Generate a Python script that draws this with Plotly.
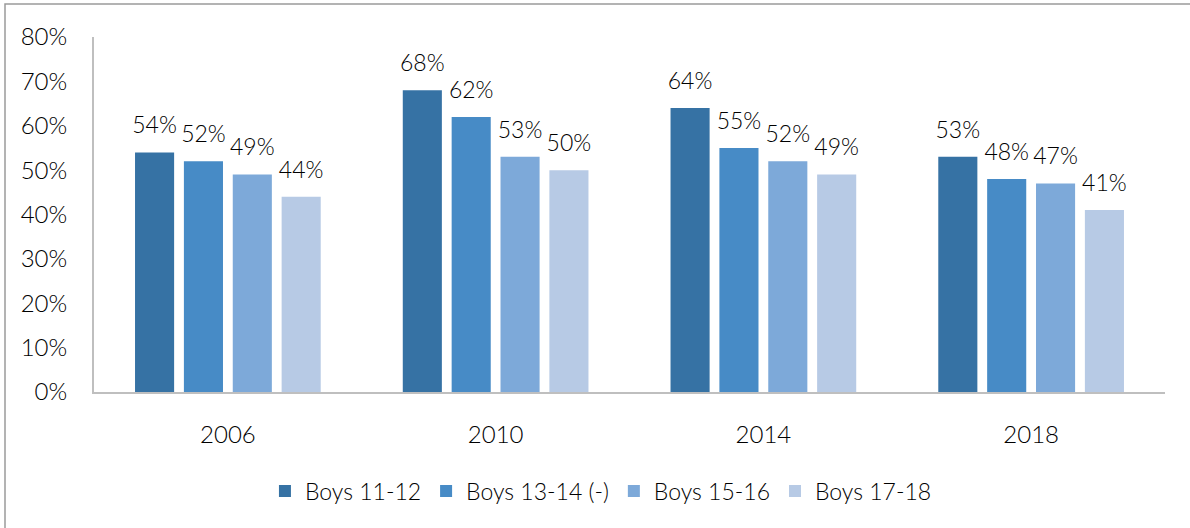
import plotly.graph_objects as go

years = ["2006", "2010", "2014", "2018"]
series_names = ["Boys 11-12", "Boys 13-14 (-)", "Boys 15-16", "Boys 17-18"]
boys_11_12 = [54, 68, 64, 53]
boys_13_14 = [52, 62, 55, 48]
boys_15_16 = [49, 53, 52, 47]
boys_17_18 = [44, 50, 49, 41]
y_ticks = [0, 10, 20, 30, 40, 50, 60, 70, 80]

colors = ["#3672A4", "#478BC6", "#7DA9D9", "#B7CAE5"]
FONT = "Lato, Roboto, sans-serif"
WEIGHT = 300
TEXT = "#000000"

W, H = 1190, 528
L, R, T, B = 94, 25, 37, 136

fig = go.Figure()
all_series = [boys_11_12, boys_13_14, boys_15_16, boys_17_18]
for i, (name, vals, col) in enumerate(zip(series_names, all_series, colors)):
    fig.add_trace(go.Bar(
        name=name, x=years, y=vals,
        marker=dict(color=col, line=dict(width=0)),
        offsetgroup=str(i),
    ))

# value labels: grouped text points sitting above each bar
for i, (name, vals) in enumerate(zip(series_names, all_series)):
    fig.add_trace(go.Scatter(
        x=years, y=vals, mode="markers+text",
        text=[f"{v}%" for v in vals], textposition="top center",
        textfont=dict(family=FONT, size=23, color=TEXT, weight=WEIGHT),
        marker=dict(size=20, opacity=0, color="white"),
        offsetgroup=str(i), showlegend=False, hoverinfo="skip",
        cliponaxis=False,
    ))

# outer frame around the whole chart
pw, ph = W - L - R, H - T - B
fig.add_shape(
    type="rect", xref="paper", yref="paper",
    x0=(5 - L) / pw, x1=(W + 10 - L) / pw,
    y0=(H - (H + 10) - B) / ph, y1=(H - 4 - B) / ph,
    line=dict(color="#9A9A9A", width=1.5), fillcolor="rgba(0,0,0,0)",
    layer="below",
)

fig.update_layout(
    width=W, height=H,
    margin=dict(l=L, r=R, t=T, b=B),
    paper_bgcolor="white", plot_bgcolor="white",
    barmode="group", bargap=0.27, bargroupgap=0.2,
    scattermode="group", scattergap=0.27,
    font=dict(family=FONT, size=24, color=TEXT, weight=WEIGHT),
    showlegend=True,
    legend=dict(
        orientation="h", xref="container", x=0.505, xanchor="center",
        yref="container", y=0.07, yanchor="middle",
        font=dict(family=FONT, size=23, color=TEXT, weight=WEIGHT),
        itemsizing="constant", traceorder="normal",
        itemwidth=30,
    ),
    xaxis=dict(
        showline=True, linecolor="#BFBFBF", linewidth=2,
        ticks="", tickfont=dict(family=FONT, size=24, color=TEXT, weight=WEIGHT),
        ticklabelstandoff=20,
    ),
    yaxis=dict(
        range=[0, 80], tickvals=y_ticks,
        ticktext=[f"{v}%" for v in y_ticks],
        showline=True, linecolor="#BFBFBF", linewidth=2,
        showgrid=False, zeroline=False, ticks="",
        tickfont=dict(family=FONT, size=24, color=TEXT, weight=WEIGHT),
        ticklabelstandoff=20,
    ),
)

fig.write_html("out.html")
